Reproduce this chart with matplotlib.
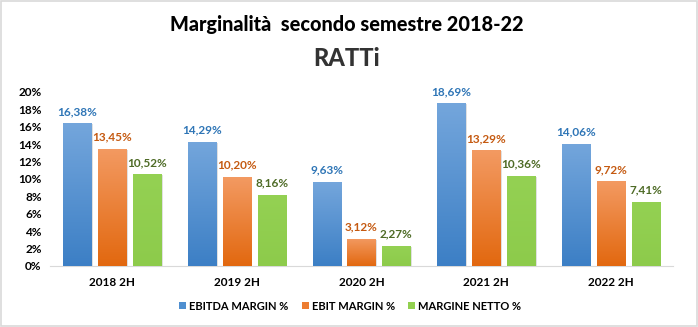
import matplotlib
matplotlib.use("Agg")
import matplotlib.pyplot as plt
import numpy as np
from matplotlib.colors import LinearSegmentedColormap
from matplotlib.patches import Rectangle

categories = ["2018 2H", "2019 2H", "2020 2H", "2021 2H", "2022 2H"]
ebitda = [16.38, 14.29, 9.63, 18.69, 14.06]
ebit = [13.45, 10.20, 3.12, 13.29, 9.72]
netto = [10.52, 8.16, 2.27, 10.36, 7.41]
series_names = ["EBITDA MARGIN %", "EBIT MARGIN %", "MARGINE NETTO %"]
yticks = [0, 2, 4, 6, 8, 10, 12, 14, 16, 18, 20]

plt.rcParams['font.family'] = ['Lato', 'DejaVu Sans']

fig = plt.figure(figsize=(6.98, 3.27), dpi=100)
fig.patch.set_facecolor("white")
fig.patches.append(Rectangle((0.001, 0.002), 0.997, 0.995, transform=fig.transFigure,
                             fill=False, edgecolor="#d9d9d9", linewidth=1.2))

ax = fig.add_axes([50/698, 1-266/327, 623/698, (266-92)/327])
ax.set_xlim(-0.5, 4.5)
ax.set_ylim(0, 20)

series = [ebitda, ebit, netto]
grads = [("#74a6dc", "#3c7fc5"), ("#f39a62", "#e2680f"), ("#94d153", "#8dcb4b")]
solid = ["#4f8fd0", "#ed7d31", "#92d050"]
label_colors = ["#2e75b6", "#c55a11", "#4e6b26"]
bw = 0.225
offs = [-0.28, 0.0, 0.28]
x = np.arange(len(categories))

grad_img = np.linspace(0, 1, 256).reshape(-1, 1)
for s, vals in enumerate(series):
    bars = ax.bar(x + offs[s], vals, width=bw, color=solid[s], zorder=2, linewidth=0)
    cmap = LinearSegmentedColormap.from_list("g%d" % s, [grads[s][1], grads[s][0]])
    for b, v in zip(bars, vals):
        bx, by = b.get_x(), b.get_y()
        w, h = b.get_width(), b.get_height()
        ax.add_patch(Rectangle((bx + 0.012, by), w, h - 0.1, facecolor="#000000", alpha=0.12,
                               zorder=1, linewidth=0))
        im = ax.imshow(grad_img, extent=(bx, bx + w, by, by + h), origin="lower",
                       cmap=cmap, aspect="auto", zorder=3)
        im.set_clip_path(b)
        ax.text(b.get_x() + w / 2, v + 0.75, ("%.2f%%" % v).replace(".", ","),
                ha="center", va="bottom", fontsize=8.5, fontweight="bold",
                color=label_colors[s], zorder=4)

ax.set_xlim(-0.5, 4.5)
ax.set_ylim(0, 20)
ax.set_xticks(x)
ax.set_xticklabels(categories, fontsize=8.5, fontweight="bold")
ax.set_yticks(yticks)
ax.set_yticklabels(["%d%%" % t for t in yticks], fontsize=8.5, fontweight="bold")
ax.tick_params(axis="both", length=0, pad=6)
ax.tick_params(axis="x", pad=8)
for sp in ["top", "right", "left"]:
    ax.spines[sp].set_visible(False)
ax.spines["bottom"].set_color("#d9d9d9")

fig.text(0.497, 1 - 24/327, "Marginalità  secondo semestre 2018-22", ha="center", va="center",
         fontsize=14.3, fontweight="black")
fig.text(0.497, 1 - 59/327, "RATTi", ha="center", va="center", fontsize=17,
         fontweight="black", color="#333333", family=["Lato"])

handles = [Rectangle((0, 0), 1, 1, facecolor=solid[i]) for i in range(3)]
fig.legend(handles, series_names, loc="center", bbox_to_anchor=(0.502, 1 - 306/327),
           ncol=3, frameon=False, prop={"weight": "bold", "size": 8},
           handlelength=0.6, handleheight=0.6, handletextpad=0.3, columnspacing=1.2)

fig.savefig("out.png", dpi=100)
